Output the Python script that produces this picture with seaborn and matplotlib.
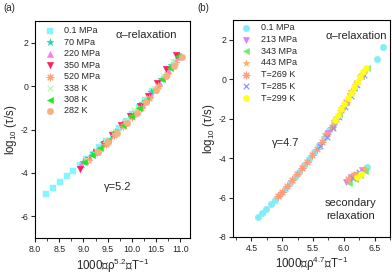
import matplotlib
matplotlib.use("Agg")
import matplotlib.pyplot as plt
import seaborn as sns
import numpy as np
from matplotlib.ticker import MultipleLocator

# ---- panel (a) data ----
a_labels = ['0.1 MPa', '70 MPa', '220 MPa', '350 MPa', '520 MPa', '338 K', '308 K', '282 K']
a_x = [
    [8.23, 8.37, 8.52, 8.66, 8.79, 8.93, 9.06, 9.19, 9.33, 9.46, 9.60, 9.73, 9.87, 10.00, 10.14, 10.28, 10.42],
    [9.00, 9.20, 9.40, 9.60, 9.80, 10.00, 10.20, 10.40, 10.60, 10.80, 10.97],
    [8.95, 9.12, 9.30, 9.48, 9.66, 9.84, 10.02, 10.20, 10.38, 10.56, 10.74, 10.93],
    [8.92, 9.08, 9.25, 9.42, 9.59, 9.78, 9.97, 10.16, 10.34, 10.52, 10.71, 10.92],
    [9.10, 9.28, 9.46, 9.64, 9.82, 10.00, 10.18, 10.36, 10.54, 10.72, 10.90],
    [9.05, 9.25, 9.45, 9.65, 9.85, 10.05, 10.25, 10.45, 10.65, 10.85],
    [9.02, 9.18, 9.34, 9.50, 9.66, 9.82, 9.98, 10.14, 10.30, 10.46, 10.62, 10.78, 10.96],
    [9.30, 9.50, 9.70, 9.90, 10.10, 10.30, 10.50, 10.70, 10.87, 11.04],
]
a_y = [
    [-4.95, -4.70, -4.43, -4.16, -3.90, -3.63, -3.38, -3.11, -2.82, -2.53, -2.22, -1.93, -1.60, -1.29, -0.96, -0.62, -0.24],
    [-3.48, -3.08, -2.64, -2.20, -1.75, -1.27, -0.80, -0.28, 0.34, 0.97, 1.45],
    [-3.59, -3.26, -2.88, -2.48, -2.08, -1.67, -1.24, -0.82, -0.36, 0.19, 0.76, 1.34],
    [-3.80, -3.42, -3.05, -2.65, -2.25, -1.80, -1.38, -0.92, -0.45, 0.15, 0.80, 1.42],
    [-3.42, -3.04, -2.65, -2.25, -1.84, -1.41, -0.99, -0.54, 0.01, 0.58, 1.13],
    [-3.35, -2.94, -2.50, -2.06, -1.60, -1.12, -0.65, -0.10, 0.53, 1.15],
    [-3.51, -3.19, -2.84, -2.49, -2.13, -1.77, -1.39, -1.01, -0.62, -0.17, 0.33, 0.84, 1.38],
    [-3.03, -2.59, -2.14, -1.70, -1.22, -0.72, -0.18, 0.46, 0.92, 1.35],
]

# ---- panel (b) data ----
b_labels = ['0.1 MPa', '213 MPa', '343 MPa', '443 MPa', 'T=269 K', 'T=285 K', 'T=299 K']
b_x = [
    [4.60, 4.67, 4.74, 4.81, 4.88, 4.96, 5.04, 5.12, 5.20, 5.28, 5.36, 5.44, 5.52, 5.60, 5.68, 5.76, 5.84, 6.54, 6.63, 6.38],
    [5.74, 5.86, 5.98, 6.10, 6.22, 6.34, 6.03, 6.12, 6.20, 6.30],
    [5.80, 5.92, 6.04, 6.16, 6.28, 6.38, 6.08, 6.18, 6.27, 6.35],
    [5.70, 5.84, 5.98, 6.12, 6.26, 6.12, 6.22, 6.32],
    [4.93, 5.00, 5.08, 5.16, 5.24, 5.32, 5.40, 5.48, 5.56, 5.64, 5.72, 5.80, 5.88, 5.96, 6.04, 6.12, 6.20, 6.28, 6.07, 6.17],
    [5.62, 5.72, 5.82, 5.92, 6.02, 6.12, 6.22, 6.33, 6.15, 6.25],
    [5.86, 5.91, 5.96, 6.01, 6.06, 6.11, 6.16, 6.21, 6.26, 6.31, 6.36, 6.22, 6.28],
]
b_y = [
    [-7.00, -6.79, -6.57, -6.35, -6.11, -5.84, -5.56, -5.28, -4.98, -4.68, -4.36, -4.03, -3.69, -3.34, -2.97, -2.59, -2.20, 1.00, 1.62, -4.45],
    [-2.74, -2.15, -1.52, -0.85, -0.19, 0.37, -5.20, -4.95, -4.85, -4.62],
    [-2.40, -1.79, -1.14, -0.46, 0.15, 0.55, -5.25, -5.05, -4.85, -4.65],
    [-2.78, -2.10, -1.37, -0.59, 0.15, -4.90, -4.75, -4.55],
    [-5.94, -5.70, -5.42, -5.13, -4.83, -4.52, -4.20, -3.86, -3.52, -3.16, -2.78, -2.40, -2.00, -1.58, -1.14, -0.69, -0.24, 0.15, -5.05, -4.85],
    [-3.40, -2.93, -2.45, -1.94, -1.40, -0.84, -0.29, 0.22, -5.00, -4.70],
    [-2.05, -1.80, -1.53, -1.25, -0.97, -0.69, -0.41, -0.14, 0.10, 0.34, 0.55, -4.95, -4.80],
]

ast = (8, 2, 0)
a_style = [('s', '#84f6ff', 20), ('*', '#2ecfa8', 28), ('^', '#f57ff0', 20), ('v', '#ff1f60', 22),
           (ast, '#ffa27c', 24), ('x', '#b9f5b5', 16), ('<', '#21e821', 20), ('o', '#f5b182', 22)]
b_style = [('o', '#82ecf8', 22), ('v', '#dc7cff', 20), ('<', '#6cef6c', 20), ('*', '#ffad5c', 26),
           (ast, '#ff9c7c', 24), ('x', '#8c8cff', 16), ('h', '#ffff1a', 24)]

sns.set_style("ticks")
plt.rcParams['font.family'] = ['Liberation Sans', 'DejaVu Sans']
plt.rcParams['mathtext.fontset'] = 'custom'
plt.rcParams['mathtext.rm'] = 'Liberation Sans'
plt.rcParams['mathtext.it'] = 'Liberation Sans:italic'
plt.rcParams['axes.unicode_minus'] = False

fig = plt.figure(figsize=(3.92, 2.75), dpi=100)
W, H = 392, 275
ax1 = fig.add_axes([35 / W, 1 - 238 / H, 155 / W, 217 / H])
ax2 = fig.add_axes([233 / W, 1 - 237 / H, 157 / W, 217 / H])


def draw(ax, xs, ys, labels, styles):
    for x, y, lab, (m, c, s) in zip(xs, ys, labels, styles):
        filled = m not in ('x', ast)
        if filled:
            sns.scatterplot(x=x, y=y, ax=ax, marker=m, color=c, s=s, edgecolor=c,
                            linewidth=0.3, label=lab, zorder=3)
        else:
            ax.scatter(x, y, marker=m, color=c, s=s, linewidths=0.8, label=lab, zorder=3)


draw(ax1, a_x, a_y, a_labels, a_style)
draw(ax2, b_x, b_y, b_labels, b_style)

ax1.set_xlim(8.0, 11.2)
ax1.set_ylim(-7, 3)
ax1.set_xticks([8.0, 8.5, 9.0, 9.5, 10.0, 10.5, 11.0])
ax1.set_yticks([-6, -4, -2, 0, 2])
ax2.set_xlim(4.2, 6.75)
ax2.set_ylim(-8, 3)
ax2.set_xticks([4.5, 5.0, 5.5, 6.0, 6.5])
ax2.set_yticks([-8, -6, -4, -2, 0, 2])

for ax in (ax1, ax2):
    ax.xaxis.set_minor_locator(MultipleLocator(0.25))
    ax.tick_params(which='major', direction='out', length=3, width=0.8, labelsize=6.3, pad=2)
    ax.tick_params(which='minor', direction='out', length=1.8, width=0.6)
    for sp in ax.spines.values():
        sp.set_visible(True)
        sp.set_linewidth(0.8)
        sp.set_color('black')
    ax.set_ylabel('log$_{10}$ (τ/s)', fontsize=8.3, labelpad=1)

ax1.set_xlabel('1000∗ρ$^{5.2}$∗T$^{-1}$', fontsize=8.3, labelpad=2)
ax2.set_xlabel('1000∗ρ$^{4.7}$∗T$^{-1}$', fontsize=8.3, labelpad=1)

ax1.legend(loc='upper left', bbox_to_anchor=(0.065, 0.975), frameon=False, fontsize=6.5,
           handlelength=1.0, handletextpad=1.1, labelspacing=0.27, borderpad=0, borderaxespad=0)
ax2.legend(loc='upper left', bbox_to_anchor=(0.055, 0.985), frameon=False, fontsize=6.5,
           handlelength=1.0, handletextpad=1.1, labelspacing=0.3, borderpad=0, borderaxespad=0)

ax1.text(10.29, 2.37, 'α–relaxation', fontsize=8, ha='center', va='center')
ax1.text(9.71, -4.67, 'γ=5.2', fontsize=8, ha='center', va='center')
ax2.text(6.20, 2.2, 'α–relaxation', fontsize=8, ha='center', va='center')
ax2.text(5.05, -3.23, 'γ=4.7', fontsize=8, ha='center', va='center')
ax2.text(6.11, -6.6, 'secondary\nrelaxation', fontsize=8, ha='center', va='center',
         linespacing=1.35)

fig.text(3 / W, 1 - 8 / H, '(a)', fontsize=7, ha='left', va='center')
fig.text(197 / W, 1 - 8 / H, '(b)', fontsize=7, ha='left', va='center')

fig.savefig('out.png', dpi=100)
